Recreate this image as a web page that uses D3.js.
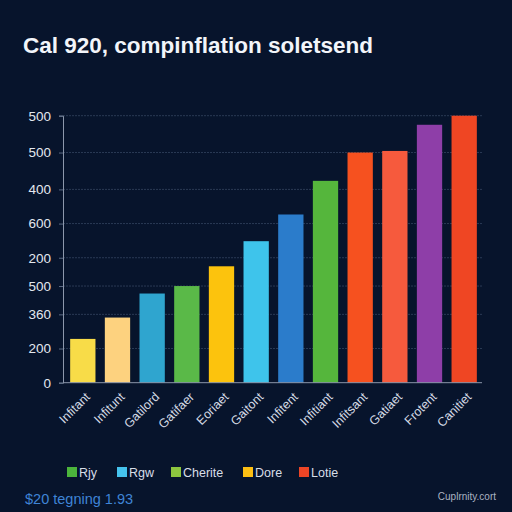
<!DOCTYPE html>
<html>
<head>
<meta charset="utf-8">
<script src="https://cdn.jsdelivr.net/npm/d3@7"></script>
<style>
  html, body { margin: 0; padding: 0; background: #07142c; }
  svg { display: block; }
</style>
</head>
<body>
<script>
// Chart data
const categories = ["Infitant", "Infitunt", "Gatilord", "Gatifaer", "Eoriaet", "Gaitont",
  "Infitent", "Infitiant", "Infitsant", "Gatiaet", "Frotent", "Canitiet"];
const values = [82, 122, 167, 181, 218, 265, 315, 378, 431, 434, 483, 500];
const barColors = ["#f8dc48", "#fdd27f", "#2fa5cf", "#5ab948", "#fcc30d", "#3ec4eb",
  "#2b7ccb", "#55b63c", "#f6511f", "#f65a3d", "#8e3ea8", "#ef4623"];

// y ticks: where they sit on the scale, and the label printed there
const tickValues = [0, 64, 128, 181, 234, 298, 362, 431, 500];
const tickLabels = ["0", "200", "360", "500", "200", "600", "400", "500", "500"];

const legendNames = ["Rjy", "Rgw", "Cherite", "Dore", "Lotie"];
const legendColors = ["#4cb53c", "#45c3ee", "#8dc63f", "#fcbf14", "#ec4526"];

const width = 512;
const height = 512;
const margin = { top: 116, right: 30, bottom: 129, left: 63 };

const svg = d3.select("body").append("svg")
  .attr("width", width)
  .attr("height", height);

svg.append("rect").attr("width", width).attr("height", height).attr("fill", "#07142c");

// Title
svg.append("text")
  .attr("x", 23)
  .attr("y", 53)
  .attr("fill", "#f2f5fa")
  .style("font-family", "Liberation Sans, Arial, sans-serif")
  .style("font-weight", "bold")
  .style("font-size", "22.5px")
  .text("Cal 920, compinflation soletsend");

// Scales
const x = d3.scaleBand()
  .domain(categories)
  .range([margin.left + 3, width - margin.right - 1])
  .paddingInner(0.27)
  .paddingOuter(0.12);

const y = d3.scaleLinear()
  .domain([0, 500])
  .range([height - margin.bottom - 0.3, margin.top - 0.3]);

// Gridlines
svg.append("g")
  .selectAll("line")
  .data(tickValues.slice(1))
  .enter()
  .append("line")
  .attr("x1", margin.left)
  .attr("x2", width - margin.right)
  .attr("y1", (d) => y(d))
  .attr("y2", (d) => y(d))
  .attr("stroke", "#34445f")
  .attr("stroke-width", 0.8)
  .attr("stroke-dasharray", "2,1");

// Y axis
const yAxis = svg.append("g")
  .attr("transform", `translate(${margin.left},0)`)
  .call(d3.axisLeft(y).tickValues(tickValues).tickSize(4).tickPadding(8)
    .tickFormat((d, i) => tickLabels[i]));
yAxis.select(".domain").attr("stroke", "#8c97ab");
yAxis.selectAll(".tick line").attr("stroke", "#5b6a84");
yAxis.selectAll("text")
  .attr("fill", "#e3e8f0")
  .style("font-family", "Liberation Sans, Arial, sans-serif")
  .style("font-size", "13.5px");

// Bars
svg.selectAll(".bar")
  .data(values)
  .enter()
  .append("rect")
  .attr("class", "bar")
  .attr("x", (d, i) => x(categories[i]))
  .attr("y", (d) => y(d))
  .attr("width", x.bandwidth())
  .attr("height", (d) => y(0) - y(d))
  .attr("fill", (d, i) => barColors[i]);

// X axis
const xAxis = svg.append("g")
  .attr("transform", `translate(0,${y(0)})`)
  .call(d3.axisBottom(x).tickSize(0).tickPadding(0));
xAxis.select(".domain").attr("stroke", "#8c97ab").attr("d", `M${margin.left},0H${width - margin.right}`);
xAxis.selectAll(".tick text")
  .attr("fill", "#d4dae4")
  .style("font-family", "Liberation Sans, Arial, sans-serif")
  .style("font-size", "12.5px")
  .attr("text-anchor", "end")
  .attr("dy", 0)
  .attr("transform", "translate(8,15) rotate(-45)");

// Legend
const legendX = [67, 117, 171, 243, 299];
const legend = svg.append("g").attr("transform", "translate(0,467)");
legend.selectAll("rect")
  .data(legendNames)
  .enter()
  .append("rect")
  .attr("x", (d, i) => legendX[i])
  .attr("y", 0)
  .attr("width", 10)
  .attr("height", 10)
  .attr("fill", (d, i) => legendColors[i]);
legend.selectAll("text")
  .data(legendNames)
  .enter()
  .append("text")
  .attr("x", (d, i) => legendX[i] + 12)
  .attr("y", 10)
  .attr("fill", "#d8dee8")
  .style("font-family", "Liberation Sans, Arial, sans-serif")
  .style("font-size", "12.5px")
  .text((d) => d);

// Footer texts
svg.append("text")
  .attr("x", 25)
  .attr("y", 504)
  .attr("fill", "#3f84d6")
  .style("font-family", "Liberation Sans, Arial, sans-serif")
  .style("font-size", "14.5px")
  .text("$20 tegning 1.93");

svg.append("text")
  .attr("x", 496)
  .attr("y", 500)
  .attr("text-anchor", "end")
  .attr("fill", "#aab3c2")
  .style("font-family", "Liberation Sans, Arial, sans-serif")
  .style("font-size", "10px")
  .text("Cuplrnity.cort");
</script>
</body>
</html>
